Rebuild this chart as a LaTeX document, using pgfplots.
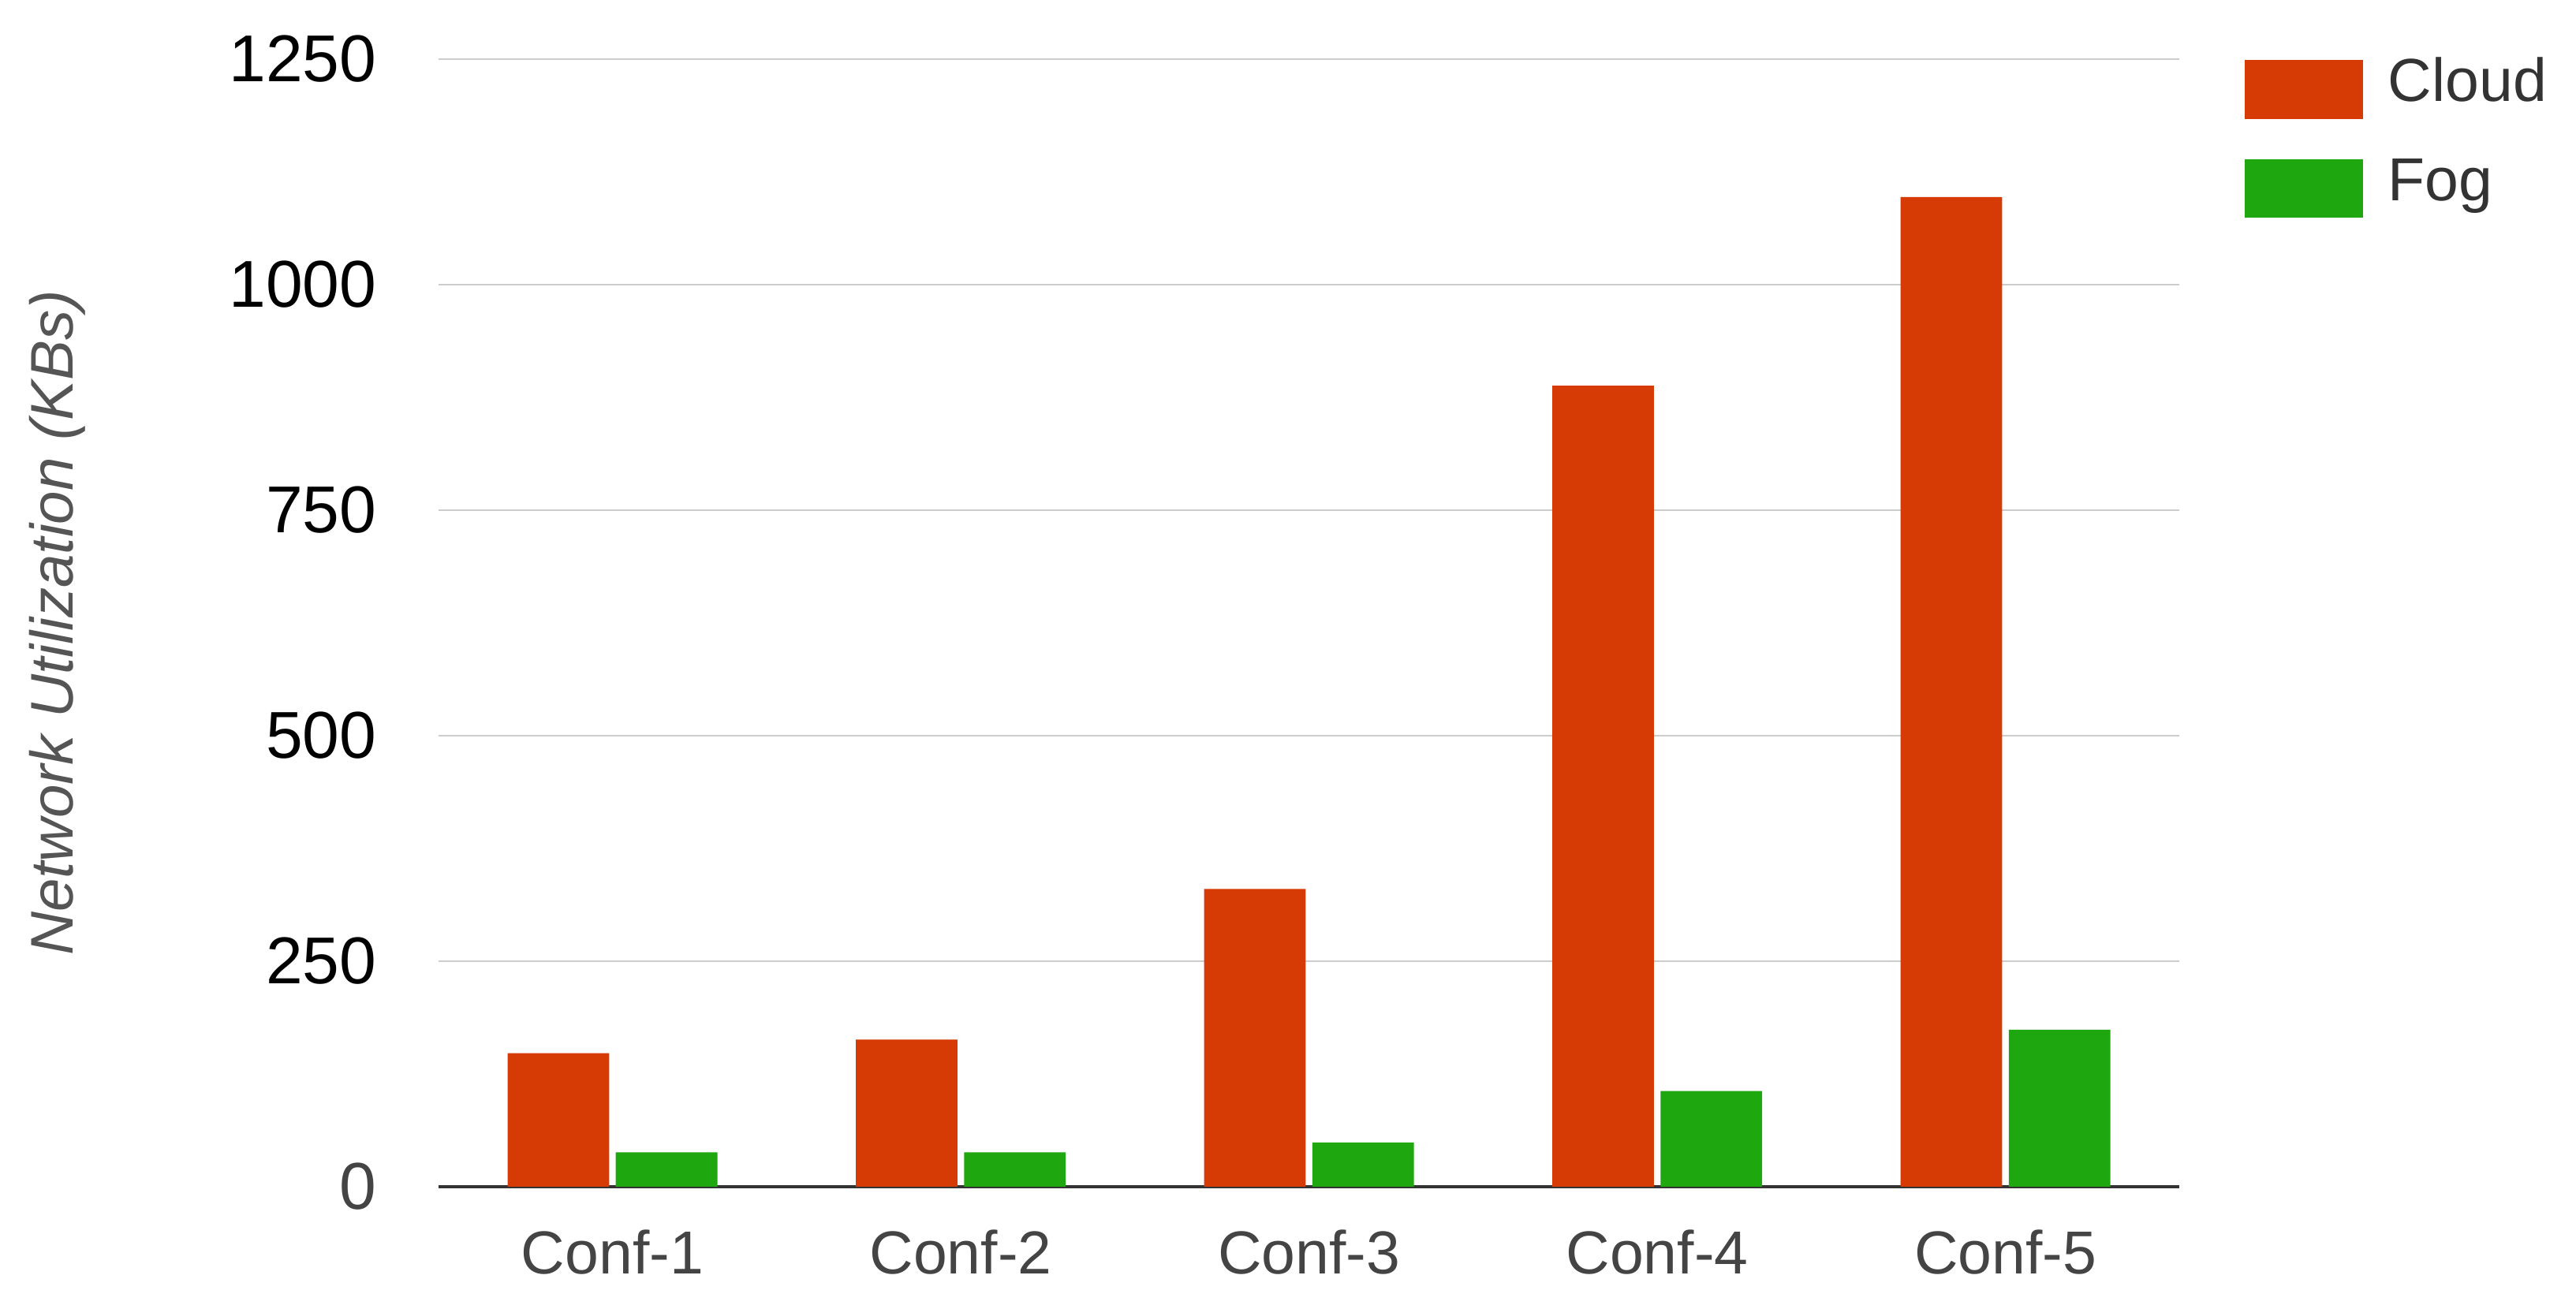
\documentclass[border=0pt]{standalone}
\usepackage{fontspec}
\setmainfont{Liberation Sans}
\usepackage{pgfplots}
\pgfplotsset{compat=1.18}
\definecolor{cloudc}{HTML}{D63A05}
\definecolor{fogc}{HTML}{1EA70E}
\definecolor{gridc}{HTML}{CCCCCC}
\definecolor{txtg}{HTML}{444444}
\definecolor{ylab}{HTML}{555555}
\definecolor{axc}{HTML}{333333}
\begin{document}
\begin{tikzpicture}
\useasboundingbox (-79.4pt,-21.4pt) rectangle (387.2pt,215pt);
\begin{axis}[
  at={(0,0)}, anchor=south west,
  scale only axis, width=315.4pt, height=204.3pt,
  xmin=-0.5, xmax=4.5, ymin=0, ymax=1250,
  ybar=1.2pt, bar width=18.4pt,
  xtick={0,1,2,3,4},
  xticklabels={Conf-1,Conf-2,Conf-3,Conf-4,Conf-5},
  ytick={0,250,500,750,1000,1250},
  yticklabels={\textcolor{txtg}{0},250,500,750,1000,1250},
  axis x line*=bottom, axis y line*=left,
  y axis line style={draw=none},
  x axis line style={draw=axc, line width=0.6pt},
  tick style={draw=none},
  ymajorgrids, grid style={draw=gridc, line width=0.35pt},
  /pgf/number format/assume math mode=true,
  yticklabel style={font=\fontsize{12}{14}\selectfont, anchor=east, inner sep=0pt, xshift=-11pt},
  xticklabel style={font=\fontsize{11}{13}\selectfont, text=txtg, anchor=north, inner sep=0pt, yshift=-3.4pt},
  ylabel={\itshape Network Utilization (KBs)},
  every axis y label/.style={at={(axis description cs:-0.2188,0.5)}, rotate=90, anchor=center,
    font=\fontsize{10.9}{13}\selectfont, text=ylab},
  legend style={at={(rel axis cs:1.0367,1.0)}, anchor=north west, draw=none, fill=none,
    inner sep=0pt, row sep=7.2pt,
    font=\fontsize{11}{13}\selectfont, text=axc,
    nodes={inner sep=0pt, text height=7.5pt, text depth=3.2pt, anchor=west},
    /tikz/every odd column/.append style={column sep=4.6pt}},
  legend image code/.code={\fill[#1, draw=none] (0pt,-5.35pt) rectangle (21.4pt,5.35pt);},
  legend cell align=left,
]
\addplot[fill=cloudc, draw=none] coordinates {(0,148) (1,163) (2,330) (3,888) (4,1097)};
\addplot[fill=fogc, draw=none] coordinates {(0,38) (1,38) (2,49) (3,106) (4,174)};
\legend{Cloud,Fog}
\end{axis}
\end{tikzpicture}
\end{document}
